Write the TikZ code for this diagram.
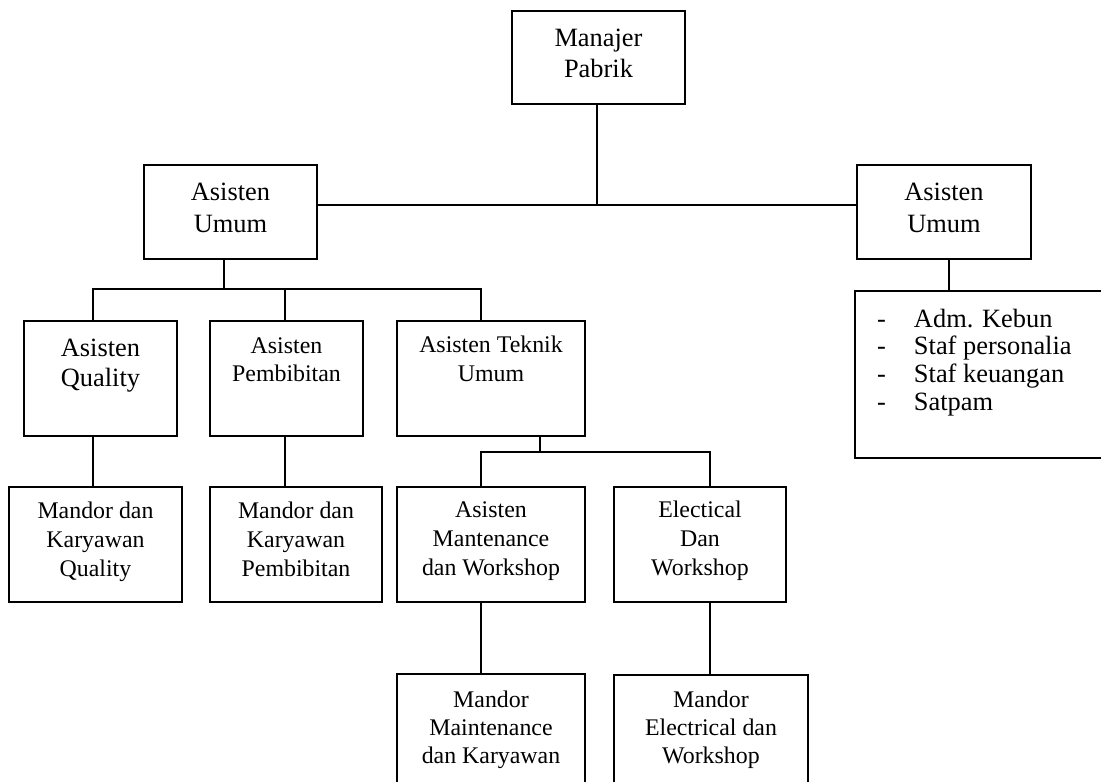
\documentclass[tikz,border=0pt]{standalone}
\usepackage{fontspec}
\setmainfont{Liberation Serif}
\newcommand\orgbox[5]{\node[box, minimum width={(#4-#2)*0.75pt}, minimum height={(#5-#3)*0.75pt}] (#1) at ({(#2+#4)/2},{(#3+#5)/2}) {};}
\begin{document}
\begin{tikzpicture}[x=0.75pt,y=-0.75pt,
  box/.style={draw, line width=1.1pt, inner sep=0pt, outer sep=0pt},
  conn/.style={line width=1.1pt},
  txt/.style={inner sep=0pt, outer sep=0pt, anchor=north, align=center},
  bigA/.style={font=\fontsize{19.8}{23.25}\selectfont},
  bigB/.style={font=\fontsize{19.8}{24}\selectfont},
  bigC/.style={font=\fontsize{19.8}{22.5}\selectfont},
  smallA/.style={font=\fontsize{17.9}{21.4}\selectfont},
  smallB/.style={font=\fontsize{17.9}{21}\selectfont},
  listf/.style={font=\fontsize{19.8}{20.8}\selectfont}]
\useasboundingbox (0,0) rectangle (1101,782);
\begin{scope}
\clip (0,0) rectangle (1101,782);
% boxes
\orgbox{man}{512}{11}{685}{104}
\orgbox{au1}{144}{165}{317}{259}
\orgbox{au2}{857}{165}{1031}{259}
\orgbox{lst}{855}{291}{1108}{458}
\orgbox{aq}{24}{321}{177}{436}
\orgbox{ap}{210}{321}{363}{436}
\orgbox{at}{397}{321}{585}{436}
\orgbox{mq}{9}{487}{182}{602}
\orgbox{mp}{210}{487}{382}{602}
\orgbox{am}{397}{487}{585}{602}
\orgbox{ae}{614}{487}{786}{602}
\orgbox{mm}{397}{674}{585}{800}
\orgbox{me}{614}{675}{808}{800}
% texts
\node[txt,bigA] (t-man) at (598.5,24.3) {\strut Manajer\\Pabrik};
\node[txt,bigB] (t-au1) at (230.5,177.6) {\strut Asisten\\Umum};
\node[txt,bigB] (t-au2) at (944,177.6) {\strut Asisten\\Umum};
\node[txt,bigC] (t-aq) at (100.5,335) {\strut Asisten\\Quality};
\node[txt,smallB] (t-ap) at (286.5,333.4) {\strut Asisten\\Pembibitan};
\node[txt,smallA] (t-at) at (491,332.7) {\strut Asisten Teknik\\Umum};
\node[txt,smallA] (t-am) at (491,498) {\strut Asisten\\Mantenance\\dan Workshop};
\node[txt,smallA] (t-ae) at (700,498) {\strut Electical\\Dan\\Workshop};
\node[txt,smallA] (t-mq) at (95.5,499) {\strut Mandor dan\\Karyawan\\Quality};
\node[txt,smallA] (t-mp) at (296,499) {\strut Mandor dan\\Karyawan\\Pembibitan};
\node[txt,smallB] (t-mm) at (491,687.4) {\strut Mandor\\Maintenance\\dan Karyawan};
\node[txt,smallB] (t-me) at (711,687.4) {\strut Mandor\\Electrical dan\\Workshop};
\node[txt,listf,anchor=north west,align=left] (t-lst) at (877,307.6)
  {\strut\makebox[27.75pt][l]{-}Adm. Kebun\\
   \makebox[27.75pt][l]{-}Staf personalia\\
   \makebox[27.75pt][l]{-}Staf keuangan\\
   \makebox[27.75pt][l]{-}Satpam};
% connectors
\coordinate (j0) at (597,205);
\draw[conn] (j0 |- man.south) -- (j0);
\draw[conn] (au1.east |- j0) -- (au2.west |- j0);
\coordinate (k1) at (224,289);
\coordinate (ka) at (93,289);
\coordinate (kb) at (285,289);
\coordinate (kc) at (481,289);
\draw[conn] (k1 |- au1.south) -- (k1);
\draw[conn] (ka |- aq.north) -- (ka) -- (kc) -- (kc |- at.north);
\draw[conn] (kb) -- (kb |- ap.north);
\draw[conn] (ka |- aq.south) -- (ka |- mq.north);
\draw[conn] (kb |- ap.south) -- (kb |- mp.north);
\coordinate (m1) at (540,452);
\coordinate (ma) at (481,452);
\coordinate (mb) at (710,452);
\draw[conn] (m1 |- at.south) -- (m1);
\draw[conn] (ma |- am.north) -- (ma) -- (mb) -- (mb |- ae.north);
\draw[conn] (ma |- am.south) -- (ma |- mm.north);
\draw[conn] (mb |- ae.south) -- (mb |- me.north);
\coordinate (n1) at (949,0);
\draw[conn] (n1 |- au2.south) -- (n1 |- lst.north);
\end{scope}
\end{tikzpicture}
\end{document}
